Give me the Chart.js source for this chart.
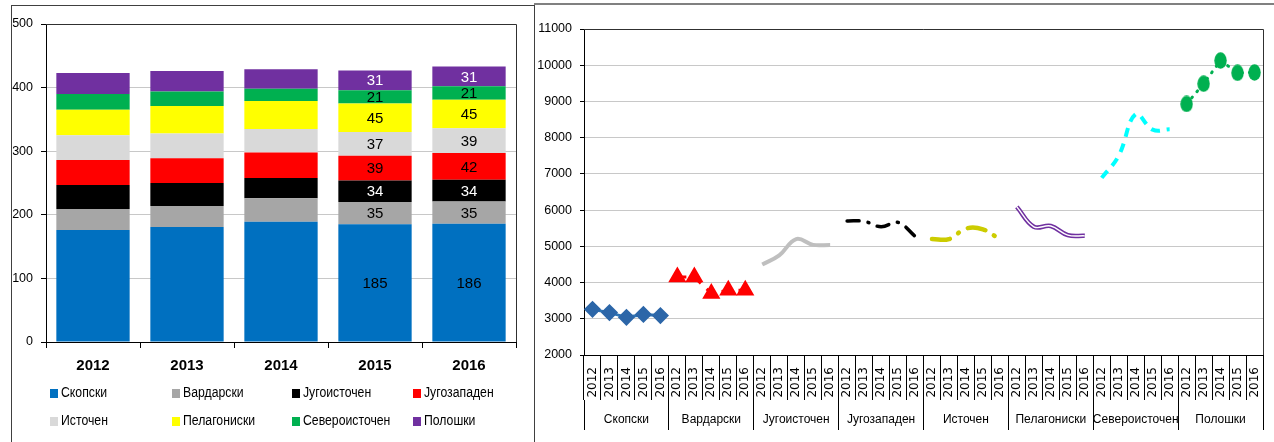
<!DOCTYPE html>
<html>
<head>
<meta charset="utf-8">
<script src="https://cdn.jsdelivr.net/npm/chart.js@4/dist/chart.umd.min.js"></script>
<style>
  html, body { margin: 0; padding: 0; background: #fff; overflow: hidden; }
  body { width: 1274px; height: 442px; position: relative; }
  #leftBox { position: absolute; left: 11px; top: 5px; width: 524px; height: 460px; border: 1px solid #404040; box-sizing: border-box; }
  #rightBox { position: absolute; left: 534px; top: 3px; width: 760px; height: 460px; border-top: 2px solid #808080; }
  #bars { position: absolute; left: 12px; top: 6px; }
  #lines { position: absolute; left: 535px; top: 6px; }
  #legend { position: absolute; left: 50px; top: 383px; display: grid; grid-template-columns: 122px 120px 121px 110px; grid-auto-rows: 28px;
            font-family: 'Liberation Sans', Arial, sans-serif; font-size: 15.5px; color: #000; }
  #legend div { white-space: nowrap; line-height: 18px; }
  #legend i { display: inline-block; width: 8px; height: 9px; margin-right: 3px; vertical-align: -1px; }
  #legend span { display: inline-block; transform: scaleX(0.79); transform-origin: left center; }
</style>
</head>
<body>
<div id="leftBox"></div>
<div id="rightBox"></div>
<canvas id="bars" width="522" height="380"></canvas>
<canvas id="lines" width="739" height="436"></canvas>
<div id="legend"></div>
<script>
const REG = "'Liberation Sans', Arial, sans-serif";

// ---- data ----
const years = ['2012', '2013', '2014', '2015', '2016'];
const regions = ['Скопски', 'Вардарски', 'Југоисточен', 'Југозападен', 'Источен', 'Пелагониски', 'Североисточен', 'Полошки'];
const colors = ['#0070C0', '#A6A6A6', '#000000', '#FF0000', '#D9D9D9', '#FFFF00', '#00B050', '#7030A0'];

// left chart: stacked values per region, 2012..2016
const skopski = [176, 181, 189, 185, 186];
const vardarski = [33, 33, 37, 35, 35];
const jugoistocen = [38, 36, 32, 34, 34];
const jugozapaden = [39, 39, 40, 39, 42];
const istocen = [39, 39, 37, 37, 39];
const pelagoniski = [40, 43, 44, 45, 45];
const severoistocen = [25, 23, 19, 21, 21];
const poloski = [33, 32, 31, 31, 31];
const labelledYears = ['2015', '2016'];

// right chart: per region, 2012..2016
const skopskiLine = [3260, 3170, 3040, 3120, 3090];
const vardarskiLine = [4150, 4150, 3700, 3790, 3790];
const jugoistocenLine = [4500, 4750, 5200, 5040, 5040];
const jugozapadenLine = [5700, 5690, 5540, 5660, 5280];
const istocenLine = [5200, 5200, 5490, 5470, 5190];
const pelagoniskiLine = [6090, 5540, 5560, 5310, 5290];
const severoistocenLine = [6890, 7500, 8650, 8220, 8230];
const poloskiLine = [8930, 9490, 10130, 9790, 9800];

const barValues = [skopski, vardarski, jugoistocen, jugozapaden, istocen, pelagoniski, severoistocen, poloski];
const lineValues = [skopskiLine, vardarskiLine, jugoistocenLine, jugozapadenLine, istocenLine, pelagoniskiLine, severoistocenLine, poloskiLine];

// ---- legend (html) ----
document.getElementById('legend').innerHTML = regions
  .map((r, i) => `<div><i style="background:${colors[i]}"></i><span>${r}</span></div>`).join('');

// draws the dark top/right edge of the plot area
const frame = {
  id: 'frame',
  afterDraw(chart) {
    const { ctx, chartArea: a } = chart;
    ctx.save();
    ctx.strokeStyle = '#303030';
    ctx.lineWidth = 1;
    ctx.beginPath();
    ctx.moveTo(a.left, Math.round(a.top) + 0.5);
    ctx.lineTo(Math.round(a.right) + 0.5, Math.round(a.top) + 0.5);
    ctx.lineTo(Math.round(a.right) + 0.5, a.bottom);
    ctx.stroke();
    ctx.restore();
  }
};

// value labels inside the 2015 / 2016 bars
const whiteText = ['#7030A0', '#000000'];
const barLabels = {
  id: 'barLabels',
  afterDatasetsDraw(chart) {
    const ctx = chart.ctx;
    ctx.save();
    ctx.font = `15px ${REG}`;
    ctx.textAlign = 'center';
    ctx.textBaseline = 'middle';
    chart.data.datasets.forEach((ds, i) => {
      chart.getDatasetMeta(i).data.forEach((bar, j) => {
        if (!labelledYears.includes(chart.data.labels[j])) return;
        ctx.fillStyle = whiteText.includes(ds.backgroundColor) ? '#fff' : '#000';
        ctx.fillText(ds.data[j], bar.x, (bar.y + bar.base) / 2 + 1);
      });
    });
    ctx.restore();
  }
};

new Chart(document.getElementById('bars'), {
  type: 'bar',
  data: {
    labels: years,
    datasets: regions.map((r, i) => ({
      label: r, data: barValues[i], backgroundColor: colors[i], borderWidth: 0,
      barPercentage: 0.78, categoryPercentage: 1
    }))
  },
  options: {
    responsive: false, animation: false,
    layout: { padding: { left: 0, top: 18, right: 18, bottom: 14 } },
    plugins: { legend: { display: false }, tooltip: { enabled: false } },
    scales: {
      x: {
        stacked: true,
        grid: { offset: true, drawOnChartArea: false, tickLength: 6, color: '#000' },
        border: { color: '#000' },
        ticks: { color: '#000', padding: 9, font: { family: REG, size: 15, weight: 'bold' } },
        afterFit(s) { s.height = 30; }
      },
      y: {
        stacked: true, min: 0, max: 500,
        grid: { color: '#C8C8C8', tickColor: '#000', tickLength: 5 },
        border: { color: '#000' },
        ticks: { stepSize: 100, color: '#000', padding: 8, font: { family: REG, size: 12.5 } },
        afterFit(s) { s.width = 34; }
      }
    }
  },
  plugins: [barLabels, frame]
});

// ---- right chart ----
function ellipseMarker(color, w, h) {
  const c = document.createElement('canvas');
  c.width = w; c.height = h;
  const g = c.getContext('2d');
  g.fillStyle = color;
  g.beginPath();
  g.ellipse(w / 2, h / 2, w / 2 - 0.3, h / 2 - 0.3, 0, 0, Math.PI * 2);
  g.fill();
  return c;
}

const xLabels = regions.flatMap(() => years);
const placed = (vals, g) => xLabels.map((_, k) => (Math.floor(k / 5) === g ? vals[k % 5] : null));

const lineStyles = [
  { borderColor: '#2E75B6', borderWidth: 3, tension: 0, pointStyle: 'rectRot', pointRadius: 6.5, pointBackgroundColor: '#2C66A8', pointBorderColor: '#2C66A8' },
  { borderColor: '#FF0000', borderWidth: 3, tension: 0, borderDash: [9, 8], pointStyle: 'triangle', pointRadius: 7.5, pointBackgroundColor: '#FF0000', pointBorderColor: '#FF0000' },
  { borderColor: '#BFBFBF', borderWidth: 4, tension: 0.4, pointRadius: 0 },
  { borderColor: '#000000', borderWidth: 3.5, tension: 0.4, borderDash: [12, 9, 1, 9], borderCapStyle: 'round', pointRadius: 0 },
  { borderColor: '#CCCC00', borderWidth: 4.5, tension: 0.4, borderDash: [18, 10, 1, 10], borderCapStyle: 'round', pointRadius: 0 },
  { borderColor: '#7030A0', borderWidth: 4.5, tension: 0.4, pointRadius: 0 },
  { borderColor: '#00FFFF', borderWidth: 4, tension: 0.4, borderDash: [9, 7], pointRadius: 0 },
  { borderColor: '#00B050', borderWidth: 3, tension: 0, borderDash: [1, 7], borderCapStyle: 'round', pointStyle: ellipseMarker('#00B050', 13, 17), pointRadius: 8 }
];

const lineSets = regions.map((r, g) => Object.assign({ label: r, data: placed(lineValues[g], g), spanGaps: false }, lineStyles[g]));
// Pelagoniski is a double line: white core drawn over the purple stroke
lineSets.push({ label: 'Пелагониски', data: placed(pelagoniskiLine, 5), borderColor: '#FFFFFF', borderWidth: 1.4, tension: 0.4, pointRadius: 0, order: -1 });

new Chart(document.getElementById('lines'), {
  type: 'line',
  data: { labels: xLabels, datasets: lineSets },
  options: {
    responsive: false, animation: false,
    layout: { padding: { left: 0, top: 23, right: 9, bottom: 6 } },
    plugins: { legend: { display: false }, tooltip: { enabled: false } },
    scales: {
      x: {
        offset: true, weight: 0,
        grid: { offset: true, drawOnChartArea: false, tickLength: 45, color: '#000' },
        border: { color: '#000' },
        ticks: { autoSkip: false, minRotation: 90, maxRotation: 90, padding: -33, color: '#000', font: { family: "'DejaVu Sans', sans-serif", size: 12 } },
        afterFit(s) { s.height = 45; }
      },
      x2: {
        type: 'category', axis: 'x', position: 'bottom', labels: regions, offset: true, weight: 1,
        grid: { offset: true, drawOnChartArea: false, tickLength: 30, color: '#000' },
        border: { display: false },
        ticks: { autoSkip: false, maxRotation: 0, padding: -18, color: '#000', font: { family: REG, size: 12 } },
        afterFit(s) { s.height = 36; }
      },
      y: {
        min: 2000, max: 11000,
        grid: { color: '#C8C8C8', tickColor: '#000', tickLength: 4 },
        border: { color: '#000' },
        ticks: { stepSize: 1000, color: '#000', padding: 8, font: { family: REG, size: 12.5 }, callback: v => String(v) },
        afterFit(s) { s.width = 49; }
      }
    }
  },
  plugins: [frame]
});
</script>
</body>
</html>
